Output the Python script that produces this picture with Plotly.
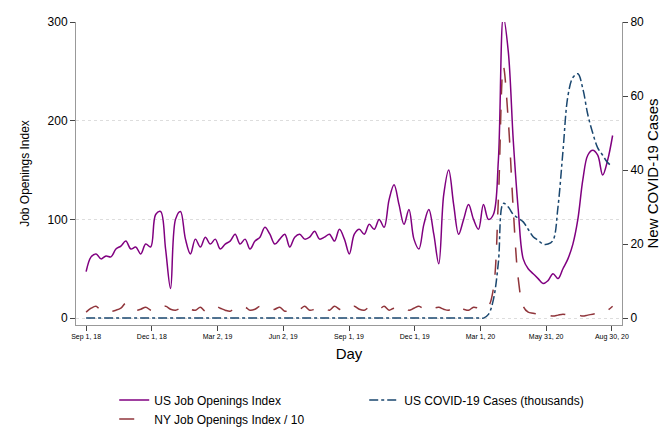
import plotly.graph_objects as go
import pandas as pd

us = [47,62,65,60,63,62,70,73,78,70,72,65,75,72,105,108,70,30,100,108,80,65,80,72,82,75,80,70,75,78,85,75,80,70,78,82,92,85,75,80,85,72,82,85,80,82,88,80,82,85,78,90,80,65,85,90,85,95,90,100,92,120,135,115,95,110,80,70,95,110,85,55,125,150,115,85,100,115,100,90,115,100,105,160,305,270,180,110,60,50,45,40,35,38,45,40,50,60,75,100,140,165,170,165,145,160,185]
ny = [6,10,12,8,9,7,8,10,15,10,8,9,11,8,7,10,12,9,8,10,12,9,8,11,7,9,12,10,8,7,10,9,11,8,9,12,10,8,9,11,7,8,10,9,12,8,9,11,10,8,12,9,7,10,12,9,8,11,10,9,12,8,10,9,11,8,10,12,9,8,10,11,9,8,12,10,9,8,11,10,9,12,30,120,255,200,110,40,12,6,5,4,3,3,2,3,4,3,2,3,2,3,4,5,6,8,12]
cases = [0]*81 + [1,5,15,31,30,28,27,26,24,22,21,20,20,21,30,45,60,65,66,62,55,50,46,44,42,41,40][:len(us)-81]
days = pd.date_range("2018-09-01", "2020-08-30", periods=len(us))

tickvals = pd.date_range("2018-09-01", periods=9, freq="91D")
ticktext = ["Sep 1, 18","Dec 1, 18","Mar 2, 19","Jun 2, 19","Sep 1, 19","Dec 1, 19","Mar 1, 20","May 31, 20","Aug 30, 20"]

fig = go.Figure()
fig.add_trace(go.Scatter(x=days, y=us, name="US Job Openings Index", line=dict(color="#800080", width=1.5, shape="spline")))
fig.add_trace(go.Scatter(x=days, y=cases, name="US COVID-19 Cases (thousands)", yaxis="y2", line=dict(color="#1a476f", width=1.5, dash="dashdot", shape="spline")))
fig.add_trace(go.Scatter(x=days, y=ny, name="NY Job Openings Index / 10", line=dict(color="#90353b", width=1.5, dash="longdash", shape="spline")))

fig.update_layout(
    width=669, height=433, paper_bgcolor="white", plot_bgcolor="white",
    margin=dict(l=68, r=55, t=7, b=95),
    font=dict(family="Liberation Sans", color="black"),
    xaxis=dict(range=["2018-08-18","2020-09-12"], tickvals=tickvals, ticktext=ticktext, tickfont=dict(size=7),
               ticks="outside", ticklen=5, showline=True, linecolor="#999", showgrid=False,
               title=dict(text="Day", font=dict(size=15), standoff=8)),
    yaxis=dict(range=[-7, 300], tickvals=[0,100,200,300], ticks="outside", ticklen=5, showline=True, linecolor="#999",
               gridcolor="#ddd", griddash="dot", zeroline=False, title=dict(text="Job Openings Index", font=dict(size=12)), tickfont=dict(size=12)),
    yaxis2=dict(range=[-7*80/300, 80], overlaying="y", side="right", tickvals=[0,20,40,60,80], ticks="outside", ticklen=5,
                showline=True, linecolor="#999", showgrid=False, zeroline=False,
                title=dict(text="New COVID-19 Cases", font=dict(size=15), standoff=4), tickfont=dict(size=12)),
    legend=dict(orientation="h", x=0.07, y=-0.2, xanchor="left", yanchor="top", entrywidth=205, font=dict(size=12)),
)
fig.write_html("out.html")
